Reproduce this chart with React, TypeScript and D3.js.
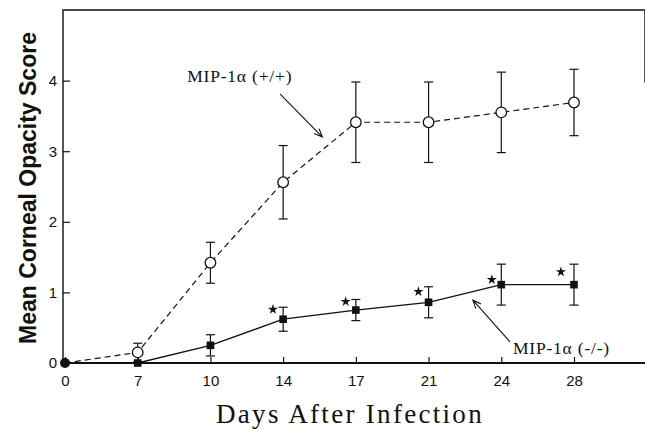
import { useEffect, useRef } from "react";
import * as d3 from "d3";

const days = ["0", "7", "10", "14", "17", "21", "24", "28"];
const wildMean = [0, 0.15, 1.42, 2.56, 3.41, 3.41, 3.55, 3.69];
const wildErr = [0, 0.13, 0.29, 0.52, 0.57, 0.57, 0.57, 0.47];
const koMean = [0, 0, 0.25, 0.62, 0.75, 0.86, 1.11, 1.11];
const koErr = [0, 0, 0.15, 0.17, 0.15, 0.22, 0.29, 0.29];
// significance stars: [day index, score level]
const stars: [number, number][] = [
  [2.86, 0.76], [3.86, 0.87], [4.86, 1.01], [5.87, 1.18], [6.82, 1.29],
];
const yTicks = [0, 1, 2, 3, 4];

export default function App() {
  const svgRef = useRef<SVGSVGElement>(null);

  useEffect(() => {
    if (!svgRef.current) return;
    const svg = d3.select(svgRef.current);
    svg.selectAll("*").remove();

    const x = d3.scaleLinear().domain([0, 7]).range([65, 574]);
    const y = d3.scaleLinear().domain([0, 5]).range([363, 10]);
    const left = 63, right = 645;

    // frame: left axis, top, partial right edge
    svg.append("path")
      .attr("d", `M${left},${y(0)}V${y(5)}H${right}V${y(3.97)}`)
      .attr("fill", "none").attr("stroke", "#111").attr("stroke-width", 1.4);
    svg.append("line")
      .attr("x1", left).attr("x2", right).attr("y1", y(0)).attr("y2", y(0))
      .attr("stroke", "#111").attr("stroke-width", 1.8);

    const xAxis = d3.axisBottom(x).tickValues(d3.range(days.length))
      .tickFormat((_, i) => days[i]).tickSizeInner(-6).tickSizeOuter(0).tickPadding(12);
    const gx = svg.append("g").attr("transform", `translate(0,${y(0)})`).call(xAxis);
    gx.select(".domain").remove();
    gx.selectAll("line").attr("stroke", "#111").attr("stroke-width", 1.2);
    gx.selectAll("text").attr("fill", "#111").attr("font-size", 15)
      .attr("font-family", "Liberation Sans, Arial, sans-serif");

    const yAxis = d3.axisLeft(y).tickValues(yTicks).tickFormat(d3.format("d"))
      .tickSizeInner(-7).tickSizeOuter(0).tickPadding(6);
    const gy = svg.append("g").attr("transform", `translate(${left},0)`).call(yAxis);
    gy.select(".domain").remove();
    gy.selectAll("line").attr("stroke", "#111").attr("stroke-width", 1.2);
    gy.selectAll("text").attr("fill", "#111").attr("font-size", 15)
      .attr("font-family", "Liberation Sans, Arial, sans-serif");

    svg.append("text")
      .attr("transform", `translate(30,188) rotate(-90)`)
      .attr("text-anchor", "middle").attr("dominant-baseline", "middle")
      .attr("font-family", "Liberation Sans, Arial, sans-serif")
      .attr("font-weight", "bold").attr("font-size", 23).attr("fill", "#111")
      .text("Mean Corneal Opacity Score");

    svg.append("text")
      .attr("x", 350).attr("y", 423).attr("text-anchor", "middle")
      .attr("font-family", "Liberation Serif, Times New Roman, serif")
      .attr("font-size", 27).attr("letter-spacing", 2.3).attr("fill", "#111")
      .text("Days After Infection");

    const idx = d3.range(days.length);
    const line = d3.line<number>().x(i => x(i));

    // error bars
    const drawErr = (mean: number[], err: number[], from: number) => {
      const g = svg.append("g").attr("stroke", "#111").attr("stroke-width", 1.2);
      idx.filter(i => i >= from && err[i] > 0).forEach(i => {
        const top = y(mean[i] + err[i]), bot = y(mean[i] - err[i]);
        g.append("line").attr("x1", x(i)).attr("x2", x(i)).attr("y1", top).attr("y2", bot);
        g.append("line").attr("x1", x(i) - 4.5).attr("x2", x(i) + 4.5).attr("y1", top).attr("y2", top);
        g.append("line").attr("x1", x(i) - 4.5).attr("x2", x(i) + 4.5).attr("y1", bot).attr("y2", bot);
      });
    };
    drawErr(wildMean, wildErr, 1);
    drawErr(koMean, koErr, 1);

    svg.append("path")
      .attr("d", line.y(i => y(wildMean[i]))(idx))
      .attr("fill", "none").attr("stroke", "#111").attr("stroke-width", 1.2)
      .attr("stroke-dasharray", "6,4");
    svg.append("path")
      .attr("d", line.y(i => y(koMean[i]))(idx))
      .attr("fill", "none").attr("stroke", "#111").attr("stroke-width", 1.3);

    svg.selectAll("circle.wt").data(idx.slice(1)).enter().append("circle")
      .attr("cx", i => x(i)).attr("cy", i => y(wildMean[i])).attr("r", 5.3)
      .attr("fill", "white").attr("stroke", "#111").attr("stroke-width", 1.3);
    svg.selectAll("rect.ko").data(idx.slice(1)).enter().append("rect")
      .attr("x", i => x(i) - 3.8).attr("y", i => y(koMean[i]) - 3.8)
      .attr("width", 7.6).attr("height", 7.6).attr("fill", "#111");
    svg.append("circle").attr("cx", x(0)).attr("cy", y(0)).attr("r", 5).attr("fill", "#111");

    const star = d3.symbol().type(d3.symbolStar).size(32);
    svg.selectAll("path.star").data(stars).enter().append("path")
      .attr("d", star).attr("fill", "#111")
      .attr("transform", d => `translate(${x(d[0])},${y(d[1])})`);

    // annotations
    const annFont = "Liberation Serif, Times New Roman, serif";
    const arrow = (x1: number, y1: number, x2: number, y2: number) => {
      const a = Math.atan2(y(y2) - y(y1), x(x2) - x(x1));
      const px = x(x2), py = y(y2), L = 9, w = 0.4;
      svg.append("path")
        .attr("d", `M${x(x1)},${y(y1)}L${px},${py}M${px - L * Math.cos(a - w)},${py - L * Math.sin(a - w)}L${px},${py}L${px - L * Math.cos(a + w)},${py - L * Math.sin(a + w)}`)
        .attr("fill", "none").attr("stroke", "#111").attr("stroke-width", 1.1);
    };
    svg.append("text").attr("x", x(1.68)).attr("y", y(3.98))
      .attr("font-family", annFont).attr("font-size", 17.5).attr("letter-spacing", 0.8).attr("fill", "#111")
      .text("MIP-1\u03b1 (+/+)");
    arrow(2.96, 3.81, 3.54, 3.2);
    svg.append("text").attr("x", x(6.16)).attr("y", y(0.13))
      .attr("font-family", annFont).attr("font-size", 17.5).attr("letter-spacing", 0.8).attr("fill", "#111")
      .text("MIP-1\u03b1 (-/-)");
    arrow(6.12, 0.3, 5.61, 0.89);
  }, []);

  return (
    <svg ref={svgRef} width={645} height={429}
      style={{ position: "absolute", left: 0, top: 0, background: "white" }} />
  );
}
